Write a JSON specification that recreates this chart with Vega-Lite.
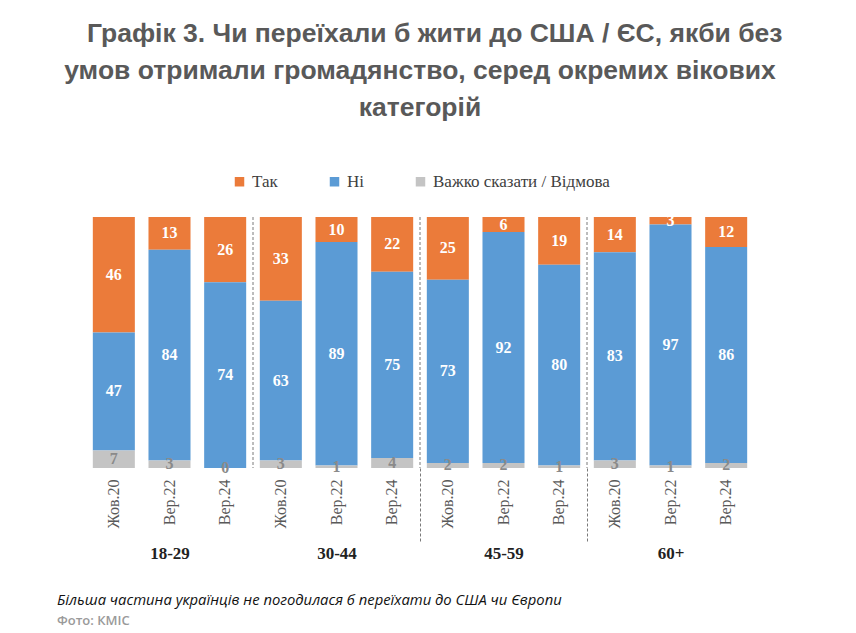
{
  "$schema": "https://vega.github.io/schema/vega-lite/v6.json",
  "background": "white",
  "padding": {"left": 57, "right": 5, "top": 20, "bottom": 5},
  "title": {
    "text": ["\u200b\u00a0\u00a0\u00a0\u00a0Графік 3. Чи переїхали б жити до США / ЄС, якби без", "умов отримали громадянство, серед окремих вікових", "категорій"],
    "font": "Liberation Sans", "fontSize": 26.5, "fontWeight": "bold", "color": "#595959",
    "lineHeight": 37, "anchor": "middle", "frame": "group", "offset": 52
  },
  "config": {
    "view": {"stroke": null},
    "legend": {"layout": {"top": {"anchor": "middle"}}}
  },
  "spacing": 31,
  "vconcat": [
    {
      "width": 668,
      "height": 251,
      "layer": [
        {
          "data": {"values": [
            {"group": "18-29", "bar": "18-29|Жов.20", "answer": "Так", "value": 46},
            {"group": "18-29", "bar": "18-29|Жов.20", "answer": "Ні", "value": 47},
            {"group": "18-29", "bar": "18-29|Жов.20", "answer": "Важко сказати / Відмова", "value": 7},
            {"group": "18-29", "bar": "18-29|Вер.22", "answer": "Так", "value": 13},
            {"group": "18-29", "bar": "18-29|Вер.22", "answer": "Ні", "value": 84},
            {"group": "18-29", "bar": "18-29|Вер.22", "answer": "Важко сказати / Відмова", "value": 3},
            {"group": "18-29", "bar": "18-29|Вер.24", "answer": "Так", "value": 26},
            {"group": "18-29", "bar": "18-29|Вер.24", "answer": "Ні", "value": 74},
            {"group": "18-29", "bar": "18-29|Вер.24", "answer": "Важко сказати / Відмова", "value": 0},
            {"group": "30-44", "bar": "30-44|Жов.20", "answer": "Так", "value": 33},
            {"group": "30-44", "bar": "30-44|Жов.20", "answer": "Ні", "value": 63},
            {"group": "30-44", "bar": "30-44|Жов.20", "answer": "Важко сказати / Відмова", "value": 3},
            {"group": "30-44", "bar": "30-44|Вер.22", "answer": "Так", "value": 10},
            {"group": "30-44", "bar": "30-44|Вер.22", "answer": "Ні", "value": 89},
            {"group": "30-44", "bar": "30-44|Вер.22", "answer": "Важко сказати / Відмова", "value": 1},
            {"group": "30-44", "bar": "30-44|Вер.24", "answer": "Так", "value": 22},
            {"group": "30-44", "bar": "30-44|Вер.24", "answer": "Ні", "value": 75},
            {"group": "30-44", "bar": "30-44|Вер.24", "answer": "Важко сказати / Відмова", "value": 4},
            {"group": "45-59", "bar": "45-59|Жов.20", "answer": "Так", "value": 25},
            {"group": "45-59", "bar": "45-59|Жов.20", "answer": "Ні", "value": 73},
            {"group": "45-59", "bar": "45-59|Жов.20", "answer": "Важко сказати / Відмова", "value": 2},
            {"group": "45-59", "bar": "45-59|Вер.22", "answer": "Так", "value": 6},
            {"group": "45-59", "bar": "45-59|Вер.22", "answer": "Ні", "value": 92},
            {"group": "45-59", "bar": "45-59|Вер.22", "answer": "Важко сказати / Відмова", "value": 2},
            {"group": "45-59", "bar": "45-59|Вер.24", "answer": "Так", "value": 19},
            {"group": "45-59", "bar": "45-59|Вер.24", "answer": "Ні", "value": 80},
            {"group": "45-59", "bar": "45-59|Вер.24", "answer": "Важко сказати / Відмова", "value": 1},
            {"group": "60+", "bar": "60+|Жов.20", "answer": "Так", "value": 14},
            {"group": "60+", "bar": "60+|Жов.20", "answer": "Ні", "value": 83},
            {"group": "60+", "bar": "60+|Жов.20", "answer": "Важко сказати / Відмова", "value": 3},
            {"group": "60+", "bar": "60+|Вер.22", "answer": "Так", "value": 3},
            {"group": "60+", "bar": "60+|Вер.22", "answer": "Ні", "value": 97},
            {"group": "60+", "bar": "60+|Вер.22", "answer": "Важко сказати / Відмова", "value": 1},
            {"group": "60+", "bar": "60+|Вер.24", "answer": "Так", "value": 12},
            {"group": "60+", "bar": "60+|Вер.24", "answer": "Ні", "value": 86},
            {"group": "60+", "bar": "60+|Вер.24", "answer": "Важко сказати / Відмова", "value": 2}
          ]},
          "layer": [
            {
              "mark": {"type": "bar"},
              "encoding": {
                "x": {
                  "field": "bar", "type": "nominal", "sort": null,
                  "scale": {"paddingInner": 0.245, "paddingOuter": 0.1225},
                  "axis": {
                    "title": null, "labelExpr": "split(datum.label, '|')[1]",
                    "labelAngle": 270, "labelFont": "Liberation Serif", "labelFontSize": 16,
                    "labelColor": "#595959", "labelPadding": 11, "ticks": false, "domain": false
                  }
                },
                "y": {"field": "value", "type": "quantitative", "stack": "normalize", "axis": null},
                "order": {"field": "answer", "sort": "ascending"},
                "color": {
                  "field": "answer", "type": "nominal",
                  "scale": {
                    "domain": ["Так", "Ні", "Важко сказати / Відмова"],
                    "range": ["#EB7B3A", "#5B9BD5", "#C4C4C4"]
                  },
                  "legend": {
                    "orient": "top", "direction": "horizontal", "title": null,
                    "symbolType": "square", "symbolSize": 90, "symbolStrokeWidth": 0,
                    "labelFont": "Liberation Serif", "labelFontSize": 17, "labelColor": "#404040",
                    "labelLimit": 400, "columnPadding": 48, "offset": 22
                  }
                }
              }
            },
            {
              "transform": [
                {"stack": "value", "groupby": ["bar"], "sort": [{"field": "answer", "order": "ascending"}], "offset": "normalize", "as": ["v0", "v1"]},
                {"calculate": "(datum.v0 + datum.v1) / 2", "as": "mid"}
              ],
              "mark": {"type": "text", "font": "Liberation Serif", "fontSize": 16, "fontWeight": "bold", "baseline": "middle"},
              "encoding": {
                "x": {"field": "bar", "type": "nominal", "sort": null},
                "y": {"field": "mid", "type": "quantitative", "scale": {"domain": [0, 1]}},
                "text": {"field": "value", "type": "quantitative"},
                "color": {
                  "condition": {"test": "datum.answer === 'Важко сказати / Відмова'", "value": "#8a8a8a"},
                  "value": "white"
                }
              }
            }
          ]
        },
        {
          "data": {"values": [
            {"group": "30-44"},
            {"group": "45-59"},
            {"group": "60+"}
          ]},
          "mark": {"type": "rule", "color": "#7a7a7a", "strokeDash": [3, 2], "strokeWidth": 1},
          "encoding": {
            "x": {
              "field": "group", "type": "nominal", "bandPosition": 0,
              "scale": {"domain": ["18-29", "30-44", "45-59", "60+"], "paddingInner": 0, "paddingOuter": 0},
              "axis": {
                "title": null, "orient": "bottom", "offset": 0, "domain": false,
                "labelAngle": 0, "labelFont": "Liberation Serif", "labelFontSize": 17, "labelFontWeight": "bold",
                "labelColor": "#222222", "labelPadding": 2,
                "tickBand": "extent", "tickSize": 75, "tickDash": [3, 2], "tickColor": "#7a7a7a",
                "tickOpacity": {"condition": {"test": "datum.index > 0 && datum.index < 1", "value": 1}, "value": 0}
              }
            }
          }
        }
      ],
      "resolve": {"scale": {"x": "independent"}, "axis": {"x": "independent"}}
    },
    {
      "width": 668,
      "height": 1,
      "data": {"values": [{"a": 1}]},
      "mark": {"type": "point", "opacity": 0},
      "encoding": {},
      "title": {
        "text": "Більша частина українців не погодилася б переїхати до США чи Європи",
        "subtitle": "Фото: КМІС",
        "anchor": "start", "dx": -29, "offset": 0,
        "font": "Open Sans", "fontSize": 14.8, "fontStyle": "italic", "fontWeight": "normal", "color": "#111111",
        "subtitleFont": "Open Sans", "subtitleFontSize": 13, "subtitleFontWeight": 600, "subtitleColor": "#9a9a9a", "subtitlePadding": 7
      }
    }
  ]
}
